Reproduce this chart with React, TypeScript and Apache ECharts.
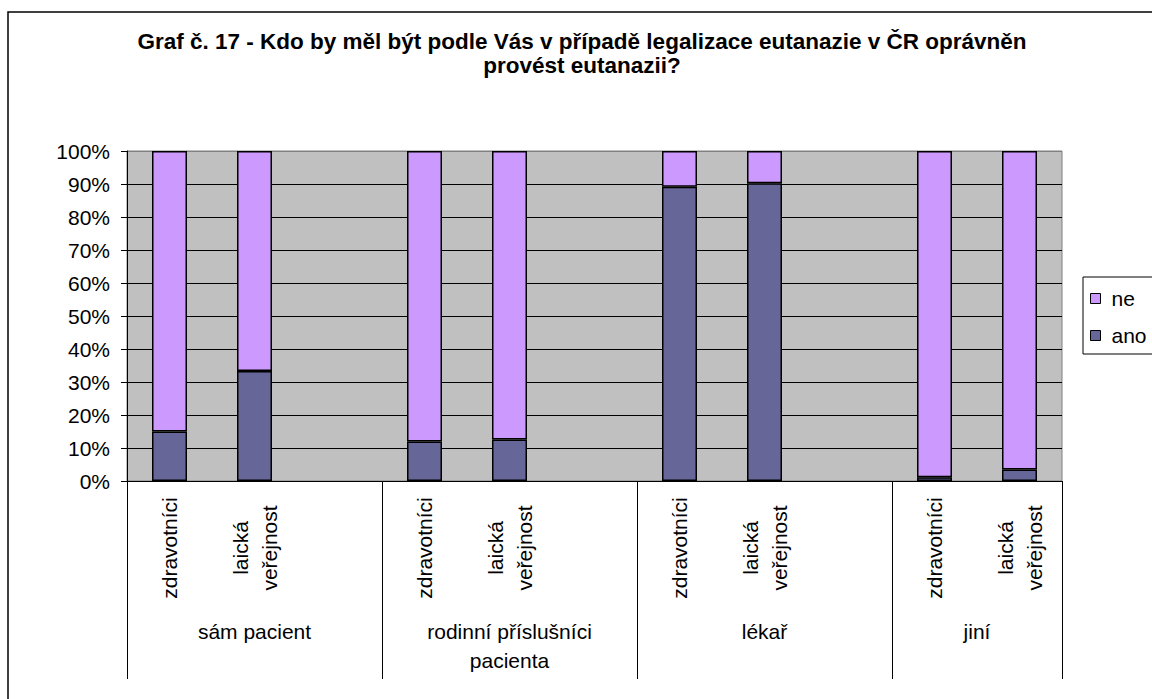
import { useEffect, useRef } from 'react';
import * as echarts from 'echarts';

// Respondent groups along the lower axis level and how many slots each spans
const groupLabels = ['sám pacient', 'rodinní příslušníci\npacienta', 'lékař', 'jiní'];
const groupSlots = [3, 3, 3, 2];

// Inner axis level: one slot per bar (empty slots separate the groups)
const slotLabels = [
  'zdravotníci', 'laická\nveřejnost', '',
  'zdravotníci', 'laická\nveřejnost', '',
  'zdravotníci', 'laická\nveřejnost', '',
  'zdravotníci', 'laická\nveřejnost',
];

// Shares in percent
const anoValues = [15, 33.3, null, 12, 12.6, null, 89.2, 90.2, null, 1.1, 3.5];
const neValues = [85, 66.7, null, 88, 87.4, null, 10.8, 9.8, null, 98.9, 96.5];

const seriesNames = ['ano', 'ne'];
const legendOrder = ['ne', 'ano'];

const titleLines = [
  'Graf č. 17 - Kdo by měl být podle Vás v případě legalizace eutanazie v ČR oprávněn',
  'provést eutanazii?',
];

const FONT = '"Liberation Sans", Arial, sans-serif';
const LABEL_SIZE = 21;

export default function App() {
  const ref = useRef<HTMLDivElement>(null);

  useEffect(() => {
    if (!ref.current) return;
    const chart = echarts.init(ref.current, undefined, { renderer: 'svg' });

    // group boundaries and centres in slot units
    const bounds: number[] = [0];
    groupSlots.forEach((n) => bounds.push(bounds[bounds.length - 1] + n));
    const centres = groupSlots.map((n, i) => bounds[i] + n / 2);
    const totalSlots = bounds[bounds.length - 1];

    // top gridline doubles as the grey plot border
    const splitColors = Array.from({ length: 11 }, (_, i) => (i === 10 ? '#808080' : '#000'));

    chart.setOption({
      animation: false,
      backgroundColor: '#fff',
      textStyle: { fontFamily: FONT },
      graphic: [
        {
          type: 'rect',
          shape: { x: 8, y: 12, width: 1400, height: 900 },
          style: { fill: 'none', stroke: '#000', lineWidth: 1.5 },
          silent: true,
        },
        {
          type: 'text',
          x: 582,
          y: 29,
          style: {
            text: titleLines.join('\n'),
            fontFamily: FONT,
            fontWeight: 'bold',
            fontSize: 22.5,
            lineHeight: 24,
            fill: '#000',
            align: 'center',
            verticalAlign: 'top',
          },
        },
      ],
      grid: {
        left: 127,
        top: 151,
        width: 935,
        height: 330,
        show: true,
        backgroundColor: '#C0C0C0',
        borderColor: '#808080',
        borderWidth: 1,
      },
      legend: {
        orient: 'vertical',
        left: 1083,
        top: 277,
        data: legendOrder,
        icon: 'rect',
        itemWidth: 10,
        itemHeight: 10,
        itemGap: 16,
        padding: [11, 40, 8, 7],
        borderColor: '#000',
        borderWidth: 1,
        backgroundColor: '#fff',
        itemStyle: { borderColor: '#000', borderWidth: 1 },
        textStyle: { fontSize: LABEL_SIZE, lineHeight: 21, color: '#000', fontFamily: FONT, padding: [0, 0, 0, 6] },
      },
      xAxis: [
        {
          type: 'category',
          position: 'bottom',
          data: slotLabels.map((_, i) => String(i)),
          boundaryGap: true,
          axisLine: { lineStyle: { color: '#000', width: 1 } },
          axisTick: { interval: 0, length: 120, lineStyle: { color: '#000', width: 1 } },
          axisLabel: {
            interval: 0,
            rotate: 90,
            align: 'center',
            verticalAlign: 'middle',
            margin: 67,
            fontSize: LABEL_SIZE,
            lineHeight: 29,
            color: '#000',
            fontFamily: FONT,
            formatter: (_v: string, idx: number) => slotLabels[idx],
          },
          splitLine: { show: false },
        },
        {
          type: 'value',
          position: 'bottom',
          min: 0,
          max: totalSlots,
          axisLine: { show: false },
          splitLine: { show: false },
          axisTick: {
            show: true,
            customValues: bounds,
            length: 198,
            lineStyle: { color: '#000', width: 1 },
          },
          axisLabel: {
            show: true,
            customValues: centres,
            margin: 136,
            fontSize: LABEL_SIZE,
            lineHeight: 29,
            color: '#000',
            fontFamily: FONT,
            verticalAlign: 'top',
            align: 'center',
            formatter: (v: number) => {
              const i = centres.findIndex((c) => Math.abs(c - v) < 1e-6);
              return i >= 0 ? groupLabels[i] : '';
            },
          },
        },
      ],
      yAxis: {
        type: 'value',
        min: 0,
        max: 100,
        interval: 10,
        axisLine: { show: true, lineStyle: { color: '#000', width: 1 } },
        axisTick: { show: true, length: 6, lineStyle: { color: '#000' } },
        axisLabel: { formatter: '{value}%', fontSize: LABEL_SIZE, margin: 17, color: '#000', fontFamily: FONT },
        splitLine: { show: true, lineStyle: { color: splitColors, width: 1 } },
      },
      series: [
        {
          name: seriesNames[0],
          type: 'bar',
          stack: 'share',
          barWidth: 35,
          data: anoValues,
          itemStyle: { color: '#666699', borderColor: '#000', borderWidth: 1.5 },
        },
        {
          name: seriesNames[1],
          type: 'bar',
          stack: 'share',
          barWidth: 35,
          data: neValues,
          itemStyle: { color: '#CC99FF', borderColor: '#000', borderWidth: 1.5 },
        },
      ],
    });

    return () => chart.dispose();
  }, []);

  return (
    <div
      ref={ref}
      style={{ position: 'absolute', left: 0, top: 0, width: 1152, height: 699, background: '#fff' }}
    />
  );
}
